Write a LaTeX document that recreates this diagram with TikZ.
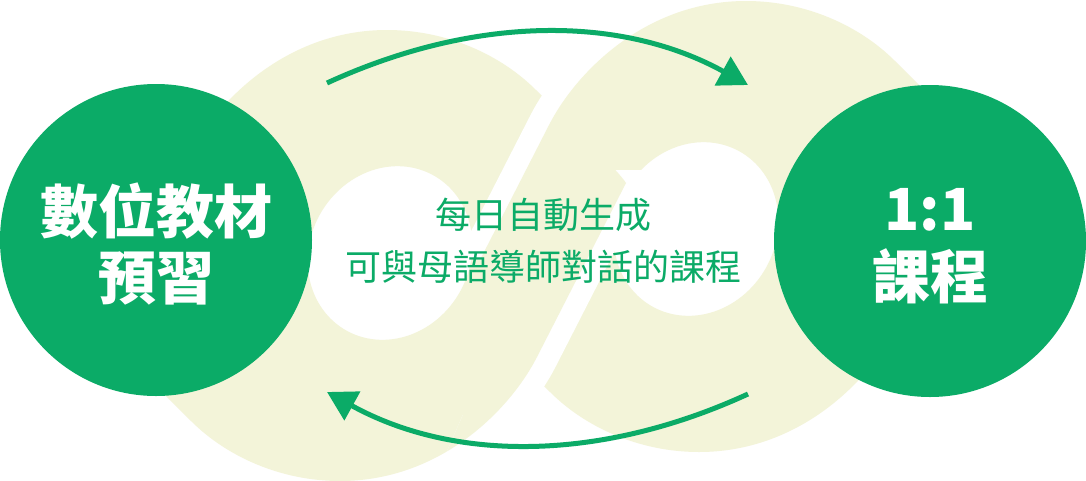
\documentclass[tikz,border=0pt]{standalone}
\usepackage{fontspec}
\newfontfamily\cjk{Noto Sans CJK TC}
\usetikzlibrary{arrows.meta}
\definecolor{brandgreen}{RGB}{11,171,103}
\definecolor{pale}{RGB}{243,244,217}
% outer outline of the left ring (screen coordinates, y downwards)
\def\Lout{(387,30) .. controls (447,30) and (501,55) .. (536,90)
  .. controls (566,120) and (618,170) .. (626,183)
  -- (537,357)
  .. controls (509.6,410.4) and (440,481) .. (340,481)
  .. controls (280,481) and (226,456) .. (191,421)
  .. controls (161,391) and (109,341) .. (101,328)
  -- (190,154)
  .. controls (217.4,100.6) and (287,30) .. (387,30) -- cycle}
% hole of the left ring: tilted ellipse
\def\Lhole{plot[domain=0:360, samples=120, variable=\t]
  ({390 + 89*cos(\t)*0.5 + 80*sin(\t)*0.866}, {253 - 89*cos(\t)*0.866 + 80*sin(\t)*0.5}) -- cycle}
\begin{document}
\begin{tikzpicture}[x=1pt,y=-1pt,
  ringfill/.style={fill=pale, even odd rule},
  gap/.style={draw=white, line width=42pt, line join=round},
  bigcircle/.style={circle, fill=brandgreen, minimum size=312pt, inner sep=0pt},
  circletext/.style={anchor=base, text=white, font=\cjk\bfseries\fontsize{58}{66}\selectfont, inner sep=0pt},
  midtext/.style={anchor=base, text=brandgreen, font=\cjk\fontsize{36}{48}\selectfont, inner sep=0pt},
  flow/.style={draw=brandgreen, line width=5pt, -{Triangle[length=29pt,width=32pt]}}
]
\useasboundingbox (0,0) rectangle (1086,480);
\fill[white] (0,0) rectangle (1086,480);
% left ring
\fill[ringfill] \Lout \Lhole;
% upper crossing: right ring in front
\begin{scope}
  \clip (420,-10) rectangle (615,258);
  \draw[gap, rotate around={180:(543,241)}] \Lout;
\end{scope}
\fill[ringfill, rotate around={180:(543,241)}] \Lout \Lhole;
% lower crossing: left ring in front
\begin{scope}
  \clip (575,170) -- (720,170) -- (720,490) -- (430,490) -- (500,330) -- (545,230) -- cycle;
  \draw[gap] \Lout;
  \fill[ringfill] \Lout \Lhole;
\end{scope}
% arrows
\coordinate (upS) at (327,83);
\coordinate (upE) at (748,85);
\coordinate (loS) at (748,394);
\coordinate (loE) at (327,392);
\draw[flow] (upS) .. controls (475,15) and (621,15) .. (upE);
\draw[flow] (loS) .. controls (600,462) and (454,462) .. (loE);
% circles
\node[bigcircle] (learn) at (156,240) {};
\node[bigcircle] (lesson) at (930,241) {};
\node[circletext] (learn1) at (156,233) {數位教材};
\node[circletext] (learn2) at (156,299) {預習};
\node[circletext] (lesson1) at (930,230) {1:1};
\node[circletext] (lesson2) at (930,298) {課程};
\node[midtext] (mid1) at (543,228) {每日自動生成};
\node[midtext] (mid2) at (543,280) {可與母語導師對話的課程};
\end{tikzpicture}
\end{document}
